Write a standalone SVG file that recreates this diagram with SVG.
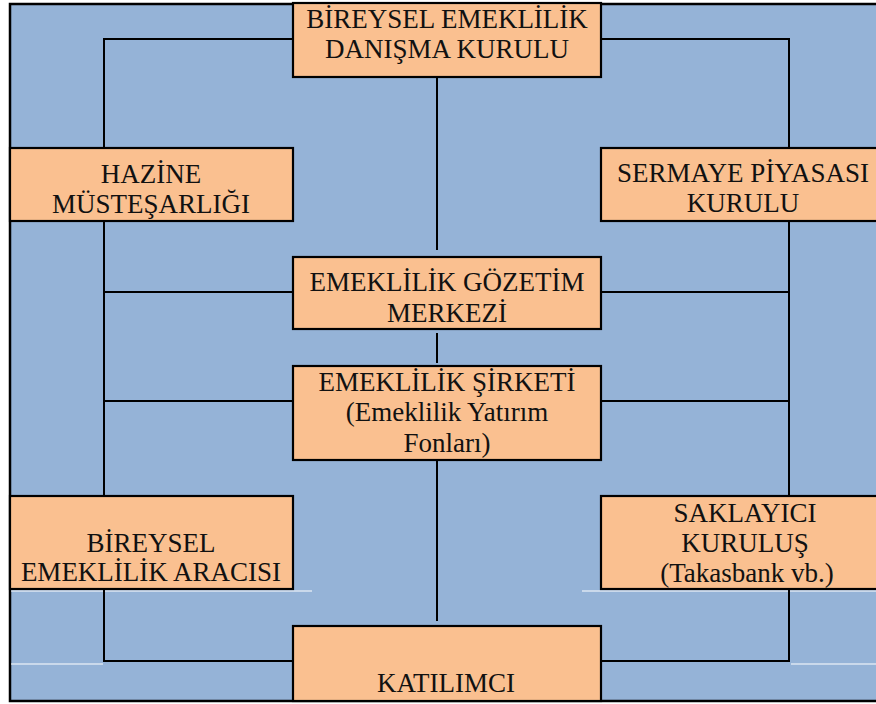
<svg xmlns="http://www.w3.org/2000/svg" width="876" height="704" viewBox="0 0 876 704">
<style>
.box{fill:#FAC090;stroke:#000;stroke-width:2.2}
text{font-family:'Liberation Serif','Times New Roman','DejaVu Serif',serif;font-size:27px;fill:#111;text-anchor:middle}
.c{fill:none;stroke:#000;stroke-width:2}
.w{stroke:#fff;stroke-width:1}
</style>
<rect x="0" y="0" width="876" height="704" fill="#fff"/>
<rect x="10" y="4" width="880" height="697" fill="#95B3D7" stroke="#000" stroke-width="2.5"/>
<g id="artifacts">
<line class="w" x1="11" y1="591" x2="312" y2="591"/>
<line class="w" x1="11" y1="664" x2="103" y2="664"/>
<line class="w" x1="582" y1="591" x2="876" y2="591"/>
<line class="w" x1="791" y1="664" x2="876" y2="664"/>
</g>
<g id="connectors">
<path class="c" d="M293,39 H104 V148"/>
<path class="c" d="M601,39 H789 V148"/>
<path class="c" d="M437,77 V250"/>
<path class="c" d="M437,333 V363"/>
<path class="c" d="M437,460 V621"/>
<path class="c" d="M104,221 V496"/>
<path class="c" d="M789,221 V496"/>
<path class="c" d="M104,292 H293"/>
<path class="c" d="M104,401 H293"/>
<path class="c" d="M789,292 H601"/>
<path class="c" d="M789,401 H601"/>
<path class="c" d="M104,589 V661 H293"/>
<path class="c" d="M789,589 V661 H601"/>
</g>
<g id="n-danisma">
<rect class="box" x="293" y="3" width="308" height="74"/>
<text font-family="Liberation Serif, serif" x="447" y="28">BİREYSEL EMEKLİLİK</text>
<text font-family="Liberation Serif, serif" x="447" y="58">DANIŞMA KURULU</text>
</g>
<g id="n-hazine">
<rect class="box" x="10" y="148" width="283" height="73"/>
<text font-family="Liberation Serif, serif" x="151" y="183">HAZİNE</text>
<text font-family="Liberation Serif, serif" x="151" y="213">MÜSTEŞARLIĞI</text>
</g>
<g id="n-spk">
<rect class="box" x="601" y="148" width="290" height="73"/>
<text font-family="Liberation Serif, serif" x="743" y="182">SERMAYE PİYASASI</text>
<text font-family="Liberation Serif, serif" x="743" y="212">KURULU</text>
</g>
<g id="n-egm">
<rect class="box" x="293" y="257" width="308" height="72"/>
<text font-family="Liberation Serif, serif" x="447" y="291">EMEKLİLİK GÖZETİM</text>
<text font-family="Liberation Serif, serif" x="447" y="322">MERKEZİ</text>
</g>
<g id="n-sirket">
<rect class="box" x="293" y="366" width="308" height="94"/>
<text font-family="Liberation Serif, serif" x="447" y="391">EMEKLİLİK ŞİRKETİ</text>
<text font-family="Liberation Serif, serif" x="447" y="421">(Emeklilik Yatırım</text>
<text font-family="Liberation Serif, serif" x="447" y="452">Fonları)</text>
</g>
<g id="n-araci">
<rect class="box" x="10" y="496" width="283" height="93"/>
<text font-family="Liberation Serif, serif" x="151" y="552">BİREYSEL</text>
<text font-family="Liberation Serif, serif" x="151" y="581">EMEKLİLİK ARACISI</text>
</g>
<g id="n-saklayici">
<rect class="box" x="601" y="496" width="290" height="93"/>
<text font-family="Liberation Serif, serif" x="745" y="522">SAKLAYICI</text>
<text font-family="Liberation Serif, serif" x="745" y="552">KURULUŞ</text>
<text font-family="Liberation Serif, serif" x="747" y="582">(Takasbank vb.)</text>
</g>
<g id="n-katilimci">
<rect class="box" x="293" y="626" width="308" height="75"/>
<text font-family="Liberation Serif, serif" x="446" y="692">KATILIMCI</text>
</g>
</svg>
